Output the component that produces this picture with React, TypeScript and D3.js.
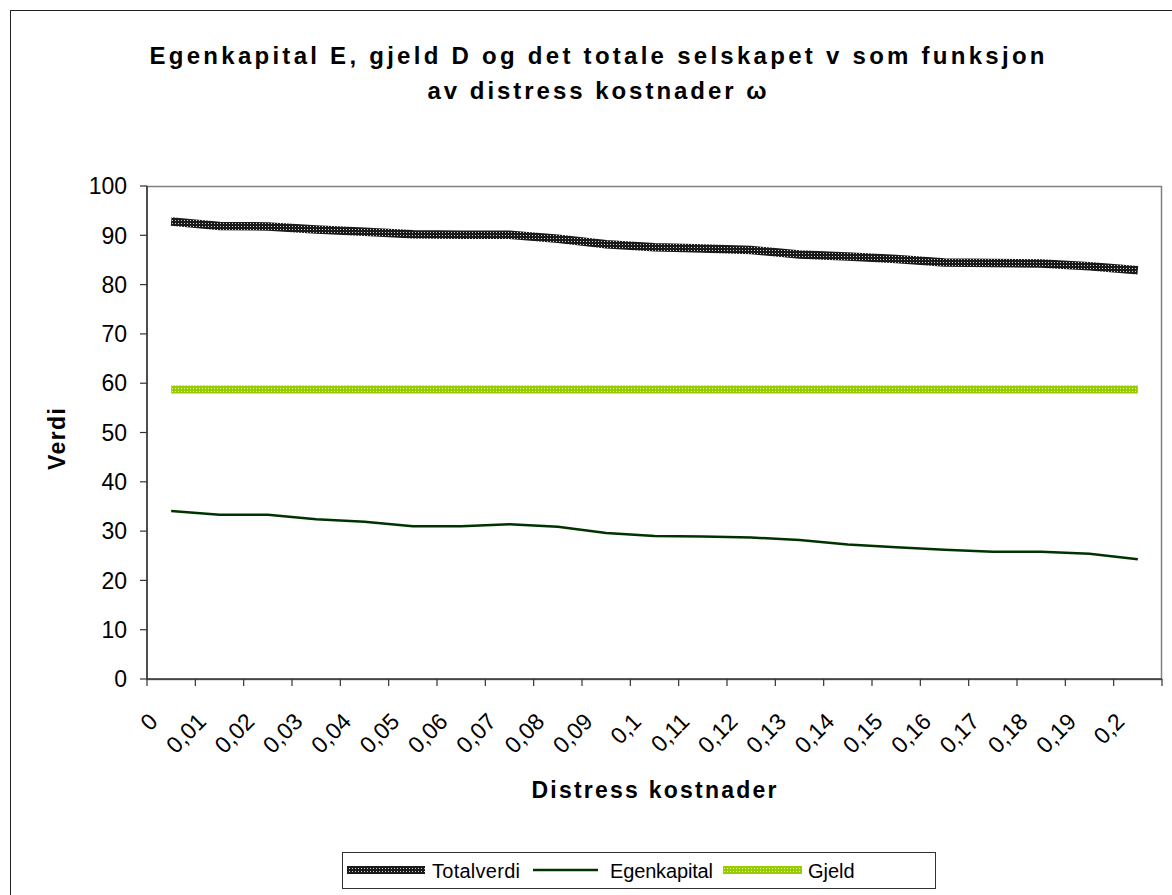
import React from "react";
import * as d3 from "d3";

const categories = [
  "0", "0,01", "0,02", "0,03", "0,04", "0,05", "0,06", "0,07", "0,08", "0,09", "0,1",
  "0,11", "0,12", "0,13", "0,14", "0,15", "0,16", "0,17", "0,18", "0,19", "0,2",
];
const totalverdi = [
  92.8, 91.9, 91.8, 91.2, 90.7, 90.2, 90.1, 90.1, 89.3, 88.2, 87.6,
  87.3, 87.0, 86.1, 85.7, 85.2, 84.5, 84.4, 84.3, 83.7, 82.9,
];
const egenkapital = [
  34.1, 33.3, 33.3, 32.4, 31.9, 31.0, 31.0, 31.4, 30.9, 29.6, 29.0,
  28.9, 28.7, 28.2, 27.3, 26.7, 26.2, 25.8, 25.8, 25.4, 24.3,
];
const gjeld = [
  58.7, 58.7, 58.7, 58.7, 58.7, 58.7, 58.7, 58.7, 58.7, 58.7, 58.7,
  58.7, 58.7, 58.7, 58.7, 58.7, 58.7, 58.7, 58.7, 58.7, 58.7,
];
const yTicks = [0, 10, 20, 30, 40, 50, 60, 70, 80, 90, 100];

const FONT = "'Liberation Sans', Arial, sans-serif";

export default function App() {
  // plot area (page pixels)
  const left = 147, right = 1162, top = 186, bottom = 679;

  const x = d3.scaleBand<string>().domain(categories).range([left, right]);
  const y = d3.scaleLinear().domain([0, 100]).range([bottom, top]);
  const cx = (i: number) => (x(categories[i]) as number) + x.bandwidth() / 2;

  const line = d3
    .line<number>()
    .x((_, i) => cx(i))
    .y((d) => y(d));

  return (
    <svg
      width={1172}
      height={895}
      style={{ position: "absolute", left: 0, top: 0, background: "#fff" }}
      fontFamily={FONT}
    >
      <defs>
        <pattern id="pTotal" width="3" height="3" patternUnits="userSpaceOnUse">
          <rect width="3" height="3" fill="#1a1a1a" />
          <rect x="1" y="1" width="1" height="1" fill="#d0d0d0" />
        </pattern>
        <pattern id="pGjeld" width="3" height="3" patternUnits="userSpaceOnUse">
          <rect width="3" height="3" fill="#99cc00" />
          <rect x="1" y="1" width="1" height="1" fill="#e2f3a6" />
        </pattern>
      </defs>

      {/* outer frame */}
      <rect x={10.5} y={10.5} width={1175} height={900} fill="none" stroke="#222" strokeWidth={1} />

      {/* title */}
      <text x={597} y={64} textAnchor="middle" fontSize={24} fontWeight="bold" textLength={895} lengthAdjust="spacing">
        Egenkapital E, gjeld D og det totale selskapet v som funksjon
      </text>
      <text x={597} y={99} textAnchor="middle" fontSize={24} fontWeight="bold" textLength={339} lengthAdjust="spacing">
        av distress kostnader ω
      </text>

      {/* plot border */}
      <rect x={left} y={top + 0.5} width={right - left - 0.5} height={bottom - top} fill="none" stroke="#808080" strokeWidth={1.5} />

      {/* y axis */}
      <line x1={left} x2={left} y1={top} y2={bottom} stroke="#333" strokeWidth={1.5} />
      {yTicks.map((t) => (
        <g key={t}>
          <line x1={left - 7} x2={left} y1={y(t)} y2={y(t)} stroke="#333" strokeWidth={1.2} />
          <text x={127} y={y(t)} dy="0.36em" textAnchor="end" fontSize={23}>
            {t}
          </text>
        </g>
      ))}

      {/* x axis */}
      <line x1={left} x2={right} y1={bottom} y2={bottom} stroke="#333" strokeWidth={1.5} />
      {categories.map((c) => (
        <line key={"t" + c} x1={x(c) as number} x2={x(c) as number} y1={bottom} y2={bottom + 7} stroke="#333" strokeWidth={1.2} />
      ))}
      <line x1={right} x2={right} y1={bottom} y2={bottom + 7} stroke="#333" strokeWidth={1.2} />
      {categories.map((c, i) => (
        <text
          key={"l" + c}
          transform={`translate(${cx(i) - 12},${723}) rotate(-45)`}
          textAnchor="end"
          fontSize={23}
        >
          {c}
        </text>
      ))}

      {/* axis titles */}
      <text transform="translate(65,439) rotate(-90)" textAnchor="middle" fontSize={23} fontWeight="bold" textLength={62} lengthAdjust="spacing">
        Verdi
      </text>
      <text x={654} y={798} textAnchor="middle" fontSize={23} fontWeight="bold" textLength={245} lengthAdjust="spacing">
        Distress kostnader
      </text>

      {/* series */}
      <path d={line(gjeld) ?? ""} fill="none" stroke="url(#pGjeld)" strokeWidth={8} />
      <path d={line(egenkapital) ?? ""} fill="none" stroke="#003300" strokeWidth={2.5} />
      <path d={line(totalverdi) ?? ""} fill="none" stroke="url(#pTotal)" strokeWidth={8.5} />

      {/* legend */}
      <rect x={342.5} y={852.5} width={593} height={36} fill="#fff" stroke="#333" strokeWidth={1} />
      <rect x={347} y={866} width={78} height={8} fill="url(#pTotal)" />
      <text x={432} y={878} fontSize={20} textLength={88} lengthAdjust="spacing">Totalverdi</text>
      <line x1={533} x2={598} y1={870} y2={870} stroke="#003300" strokeWidth={2.5} />
      <text x={610} y={878} fontSize={20} textLength={103} lengthAdjust="spacing">Egenkapital</text>
      <rect x={723} y={866} width={79} height={8} fill="url(#pGjeld)" />
      <text x={808} y={878} fontSize={20}>Gjeld</text>
    </svg>
  );
}
